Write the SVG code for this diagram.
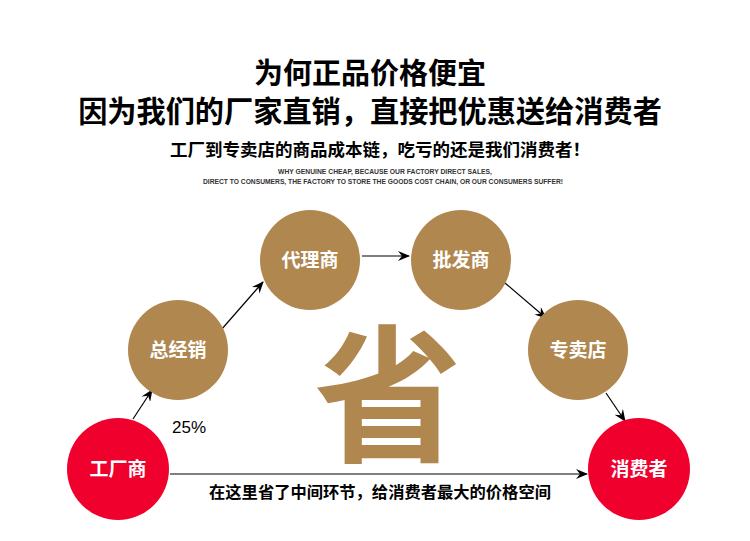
<svg xmlns="http://www.w3.org/2000/svg" width="750" height="541" viewBox="0 0 750 541">
<style>
.t{font-family:"Noto Sans CJK SC","Liberation Sans",sans-serif;font-weight:bold;fill:#000;text-anchor:middle}
.en{font-family:"Liberation Sans",Arial,sans-serif;font-weight:bold;fill:#333;text-anchor:middle;font-size:6.5px}
.gold{fill:#b0874f}
.red{fill:#f0002d}
.lbl{font-family:"Noto Sans CJK SC",sans-serif;font-weight:bold;fill:#fff;text-anchor:middle;font-size:19px}
.c line{stroke:#000;stroke-width:1.2;marker-end:url(#ah)}
</style>
<defs>
<marker id="ah" viewBox="0 0 12 10" refX="11" refY="5" markerWidth="12" markerHeight="10" markerUnits="userSpaceOnUse" orient="auto">
<path d="M0,0 L12,5 L0,10 L4,5 Z" fill="#000"/>
</marker>
</defs>
<rect width="750" height="541" fill="#fff"/>
<g id="titles">
<text class="t" x="370" y="84" font-size="29">为何正品价格便宜</text>
<text class="t" x="370" y="122" font-size="29.2">因为我们的厂家直销，直接把优惠送给消费者</text>
<text class="t" x="380" y="156" font-size="17.5">工厂到专卖店的商品成本链，吃亏的还是我们消费者！</text>
<text class="en" x="385" y="174" textLength="214" lengthAdjust="spacingAndGlyphs">WHY GENUINE CHEAP, BECAUSE OUR FACTORY DIRECT SALES,</text>
<text class="en" x="383" y="184" textLength="360" lengthAdjust="spacingAndGlyphs">DIRECT TO CONSUMERS, THE FACTORY TO STORE THE GOODS COST CHAIN, OR OUR CONSUMERS SUFFER!</text>
</g>
<g id="big">
<text x="388" y="450" font-family="Noto Sans CJK SC,sans-serif" font-weight="bold" font-size="148" class="gold" text-anchor="middle">省</text>
</g>
<g class="c" id="connectors">
<line x1="133" y1="419" x2="152" y2="390"/>
<line x1="214" y1="338" x2="263" y2="282"/>
<line x1="362" y1="256" x2="409" y2="256"/>
<line x1="505" y1="283" x2="546" y2="318"/>
<line x1="606" y1="393" x2="625" y2="421"/>
<line x1="170" y1="474" x2="587" y2="474"/>
</g>
<g id="n1"><circle cx="118" cy="469" r="51" class="red"/><text class="lbl" x="118" y="476">工厂商</text></g>
<g id="n2"><circle cx="178" cy="350" r="50" class="gold"/><text class="lbl" x="178" y="357">总经销</text></g>
<g id="n3"><circle cx="310" cy="260" r="50" class="gold"/><text class="lbl" x="310" y="267">代理商</text></g>
<g id="n4"><circle cx="461" cy="260" r="50" class="gold"/><text class="lbl" x="461" y="267">批发商</text></g>
<g id="n5"><circle cx="578" cy="350" r="50" class="gold"/><text class="lbl" x="578" y="357">专卖店</text></g>
<g id="n6"><circle cx="639" cy="469" r="51" class="red"/><text class="lbl" x="639" y="476">消费者</text></g>
<g id="labels">
<text x="189" y="433" font-family="Liberation Sans,Arial,sans-serif" font-size="17" text-anchor="middle">25%</text>
<text class="t" x="380" y="498" font-size="16.3">在这里省了中间环节，给消费者最大的价格空间</text>
</g>
</svg>
